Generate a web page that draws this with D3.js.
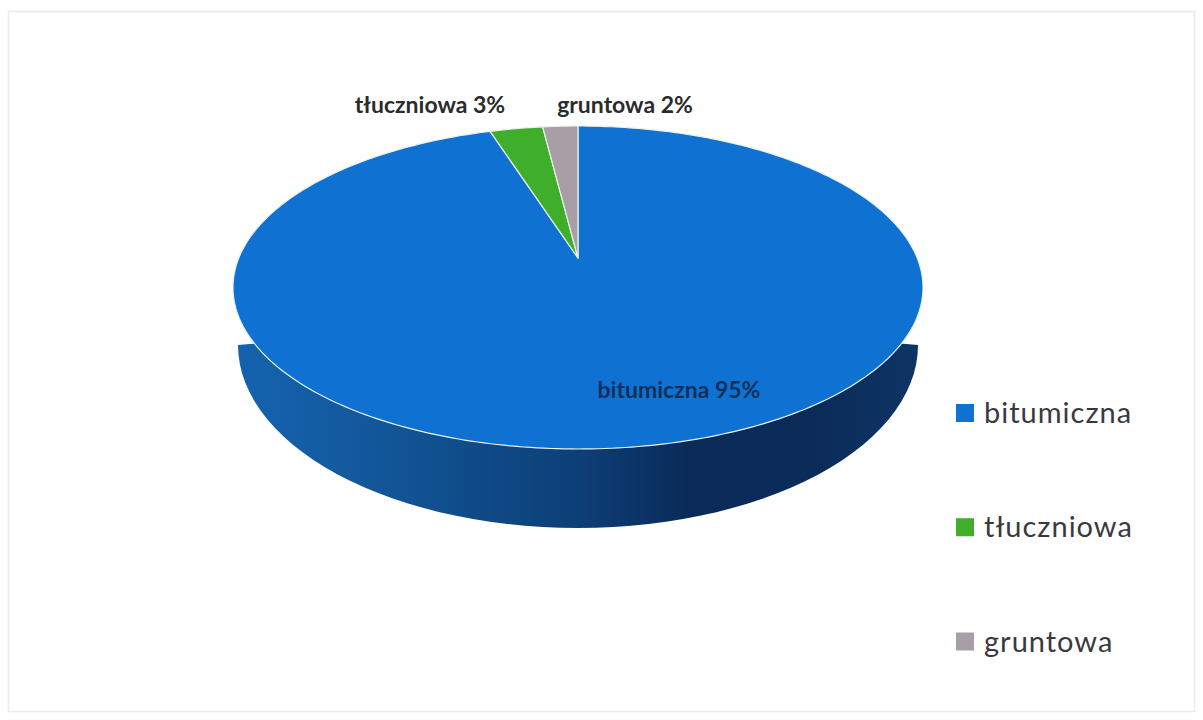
<!DOCTYPE html>
<html>
<head>
<meta charset="utf-8">
<script src="https://cdn.jsdelivr.net/npm/d3@7"></script>
<style>
	html, body { margin: 0; padding: 0; background: #fff; }
	svg { display: block; }
</style>
</head>
<body>
<div id="chart"></div>
<script>
// chart values
const categories = ['bitumiczna', 'tłuczniowa', 'gruntowa'];
const values = [95, 3, 2];
const sliceColors = ['#0f72d3', '#3fae2a', '#a89fa6'];
const wallStops = ['#1463b0', '#135a9f', '#0f4c8a', '#0d3f77', '#0a2a58', '#0b2b58', '#0d3565'];

let width = 1203,
	height = 720;

// the top face is an ellipse, the slices meet off centre because of the perspective
let face = { cx: 578, cy: 287.5, rx: 345, ry: 161.5 },
	apex = { x: 578, y: 258 },
	bottomFace = { cx: 578, cy: 345, rx: 340, ry: 183 };

let svg = d3.select('#chart')
	.append('svg')
	.attr('width', width)
	.attr('height', height)
	.style('background', 'white');

// faint frame of the scanned page
svg.append('rect')
	.attr('x', 8.5)
	.attr('y', 11.5)
	.attr('width', 1186)
	.attr('height', 700)
	.attr('fill', 'none')
	.attr('stroke', '#ebebeb')
	.attr('stroke-width', 1.5);

// gradient for the side wall
let gradient = svg.append('defs')
	.append('linearGradient')
	.attr('id', 'wall')
	.attr('x1', '0%')
	.attr('x2', '100%')
	.attr('y1', '0%')
	.attr('y2', '0%');

gradient.selectAll('stop')
	.data(wallStops)
	.enter()
	.append('stop')
	.attr('offset', function (d, i) { return (i / (wallStops.length - 1) * 100) + '%'; })
	.attr('stop-color', function (d) { return d; });

// side wall: lower half of the bottom ellipse joined to the top face
let wallSteps = d3.range(0, 181, 3).map(function (a) {
	let t = a * Math.PI / 180;
	return [bottomFace.cx - bottomFace.rx * Math.cos(t), bottomFace.cy + bottomFace.ry * Math.sin(t)];
});
let topEdge = d3.range(180, -1, -3).map(function (a) {
	let t = a * Math.PI / 180;
	return [face.cx - face.rx * Math.cos(t), face.cy + face.ry * Math.sin(t)];
});
let line = d3.line();

svg.append('path')
	.attr('d', line(wallSteps.slice().reverse().concat(topEdge).reverse()) + 'Z')
	.attr('fill', 'url(#wall)');

// where a ray out of the apex hits the rim of the top ellipse
function rimPoint(angle) {
	let dx = Math.sin(angle) * face.rx,
		dy = -Math.cos(angle) * face.ry;
	let ox = (apex.x - face.cx) / face.rx,
		oy = (apex.y - face.cy) / face.ry,
		ux = dx / face.rx,
		uy = dy / face.ry;
	let a = ux * ux + uy * uy,
		b = 2 * (ox * ux + oy * uy),
		c = ox * ox + oy * oy - 1;
	let s = (-b + Math.sqrt(b * b - 4 * a * c)) / (2 * a);
	return [apex.x + dx * s, apex.y + dy * s];
}

let pie = d3.pie().sort(null);
let slices = pie(values);

svg.selectAll('path.slice')
	.data(slices)
	.enter()
	.append('path')
	.attr('class', 'slice')
	.attr('d', function (d) {
		let n = Math.ceil((d.endAngle - d.startAngle) * 60);
		let pts = d3.range(n + 1).map(function (i) {
			return rimPoint(d.startAngle + (d.endAngle - d.startAngle) * i / n);
		});
		return line([[apex.x, apex.y]].concat(pts)) + 'Z';
	})
	.attr('fill', function (d, i) { return sliceColors[i]; })
	.attr('stroke', '#e8f2e8')
	.attr('stroke-width', 1.2)
	.attr('stroke-linejoin', 'round');

// data labels
let labelPos = [[679, 398], [430, 113], [625, 113]];
let labelFill = ['#12305c', '#2b2b2b', '#2b2b2b'];

svg.selectAll('text.label')
	.data(categories)
	.enter()
	.append('text')
	.attr('class', 'label')
	.attr('x', function (d, i) { return labelPos[i][0]; })
	.attr('y', function (d, i) { return labelPos[i][1]; })
	.attr('text-anchor', 'middle')
	.style('font-family', 'Lato, sans-serif')
	.style('font-weight', '700')
	.style('font-size', '23px')
	.style('fill', function (d, i) { return labelFill[i]; })
	.text(function (d, i) { return d + ' ' + values[i] + '%'; });

// legend
let legendY = d3.scalePoint()
	.domain(categories)
	.range([413, 641.5]);

svg.selectAll('rect.key')
	.data(categories)
	.enter()
	.append('rect')
	.attr('class', 'key')
	.attr('x', 956)
	.attr('y', function (d) { return legendY(d) - 9; })
	.attr('width', 18)
	.attr('height', 18)
	.attr('fill', function (d, i) { return sliceColors[i]; });

svg.selectAll('text.legend')
	.data(categories)
	.enter()
	.append('text')
	.attr('class', 'legend')
	.attr('x', 984)
	.attr('y', function (d) { return legendY(d) + 10; })
	.style('font-family', 'Lato, sans-serif')
	.style('font-size', '29px')
	.style('letter-spacing', '1px')
	.style('fill', '#3a3a3e')
	.text(function (d) { return d; });
</script>
</body>
</html>
